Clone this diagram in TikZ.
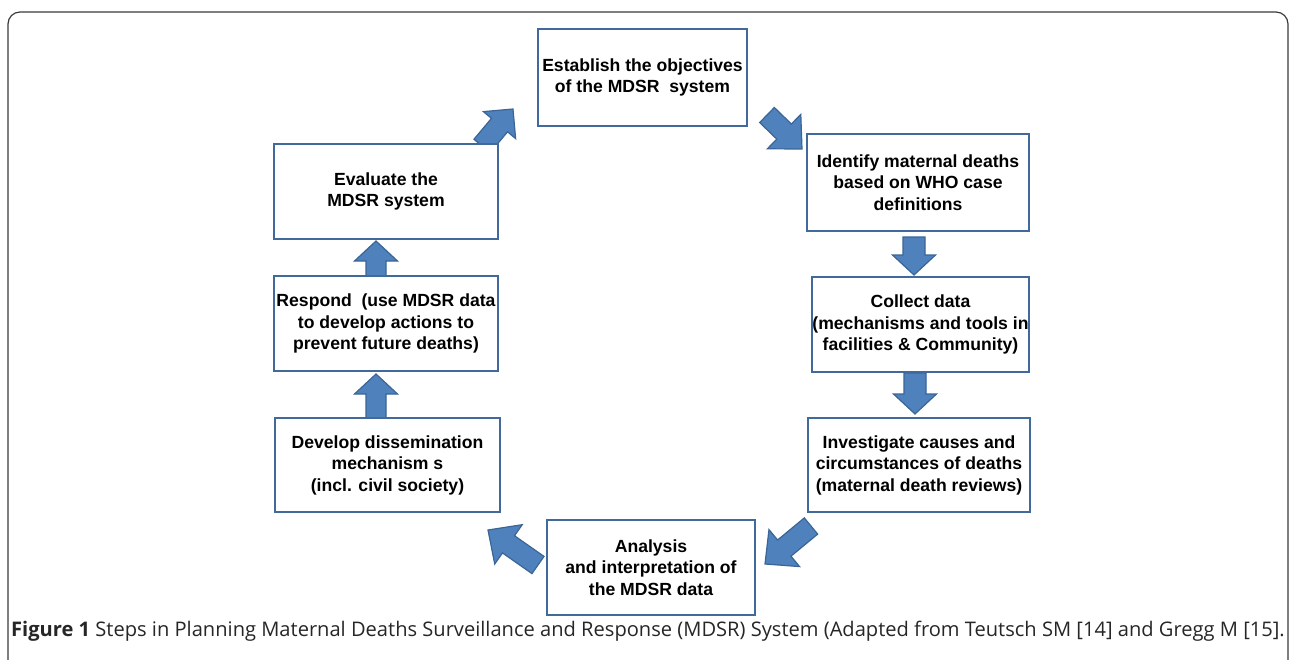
\documentclass[tikz,border=0pt]{standalone}
\usepackage{fontspec}
\usetikzlibrary{calc}
\newfontfamily\boxfamily{Liberation Sans}
\newfontfamily\capfamily{Open Sans}
\definecolor{boxblue}{HTML}{41699A}
\definecolor{arrfill}{HTML}{4F81BD}
\definecolor{arrline}{HTML}{3A6596}
\definecolor{framegray}{HTML}{3A3A3A}
\newcommand\blockarrow[5]{%
  \path[arrowshape]
    ($(#1)!#3!90:(#2)$) --
    ($(#2)!#5!(#1)!#3!-90:(#1)$) --
    ($(#2)!#5!(#1)!#4!-90:(#1)$) --
    (#2) --
    ($(#2)!#5!(#1)!#4!90:(#1)$) --
    ($(#2)!#5!(#1)!#3!90:(#1)$) --
    ($(#1)!#3!-90:(#2)$) -- cycle;}
\tikzset{
  stepbox/.style={draw=boxblue, line width=2pt, fill=white, align=center,
    inner sep=0pt, font=\boxfamily\bfseries\fontsize{17.6pt}{21.5pt}\selectfont},
  arrowshape/.style={fill=arrfill, draw=arrline, line width=1.2pt, line join=miter},
}
\begin{document}
\begin{tikzpicture}[x=1pt,y=-1pt]
\useasboundingbox (0,0) rectangle (1290,659);
\clip (0,0) rectangle (1290,659);
\draw[framegray, line width=1.2pt, rounded corners=12pt] (8,720) -- (8,12) -- (1288,12) -- (1288,720);

% arrow end points
\coordinate (a1t) at (482,146);  \coordinate (a1h) at (513,109);
\coordinate (a2t) at (767,115);  \coordinate (a2h) at (802,149);
\coordinate (a3t) at (914,237);  \coordinate (a3h) at (914,275);
\coordinate (a4t) at (915,373);  \coordinate (a4h) at (915,414);
\coordinate (a5t) at (811,526);  \coordinate (a5h) at (765,564);
\coordinate (a6t) at (538,565);  \coordinate (a6h) at (488,530);
\coordinate (a7t) at (376,418);  \coordinate (a7h) at (376,374);
\coordinate (a8t) at (376,276);  \coordinate (a8h) at (376,241);

\blockarrow{a1t}{a1h}{10.5pt}{21pt}{21pt}
\blockarrow{a2t}{a2h}{10.5pt}{24pt}{25pt}
\blockarrow{a3t}{a3h}{11pt}{21.5pt}{20pt}
\blockarrow{a4t}{a4h}{11pt}{21.5pt}{20pt}
\blockarrow{a5t}{a5h}{10.5pt}{24pt}{25pt}
\blockarrow{a6t}{a6h}{10.5pt}{24pt}{25pt}
\blockarrow{a7t}{a7h}{10pt}{21.5pt}{20pt}
\blockarrow{a8t}{a8h}{10pt}{21.5pt}{20pt}

\node[stepbox, minimum width=209pt, minimum height=97pt] (establish) at (642.5,77.5)
  {Establish the objectives\\of the MDSR\ \ system};
\node[stepbox, minimum width=222pt, minimum height=97pt] (identify) at (918,182.5)
  {Identify maternal deaths\\based on WHO case\\definitions};
\node[stepbox, minimum width=217pt, minimum height=95pt] (collect) at (920.5,324.5)
  {Collect data\\(mechanisms and tools in\\facilities \& Community)};
\node[stepbox, minimum width=222pt, minimum height=94pt] (investigate) at (919,465)
  {Investigate causes and\\circumstances of deaths\\(maternal death reviews)};
\node[stepbox, minimum width=208pt, minimum height=95pt] (analysis) at (651,567.5)
  {Analysis\\and interpretation of\\the MDSR data};
\node[stepbox, minimum width=225pt, minimum height=94pt] (develop) at (387.5,465)
  {Develop dissemination\\mechanism s\\(incl. civil society)};
\node[stepbox, minimum width=224pt, minimum height=95pt] (respond) at (386,323.5)
  {Respond\ \ (use MDSR data\\to develop actions to\\prevent future deaths)};
\node[stepbox, minimum width=224pt, minimum height=95pt] (evaluate) at (386,191.5)
  {Evaluate the\\MDSR system};

\node[anchor=west, inner sep=0pt, text=black!85,
  font=\capfamily\fontsize{20.1pt}{23pt}\selectfont] (caption) at (11,631)
  {\textbf{Figure 1} Steps in Planning Maternal Deaths Surveillance and Response (MDSR) System (Adapted from Teutsch SM [14] and Gregg M [15].};
\end{tikzpicture}
\end{document}
